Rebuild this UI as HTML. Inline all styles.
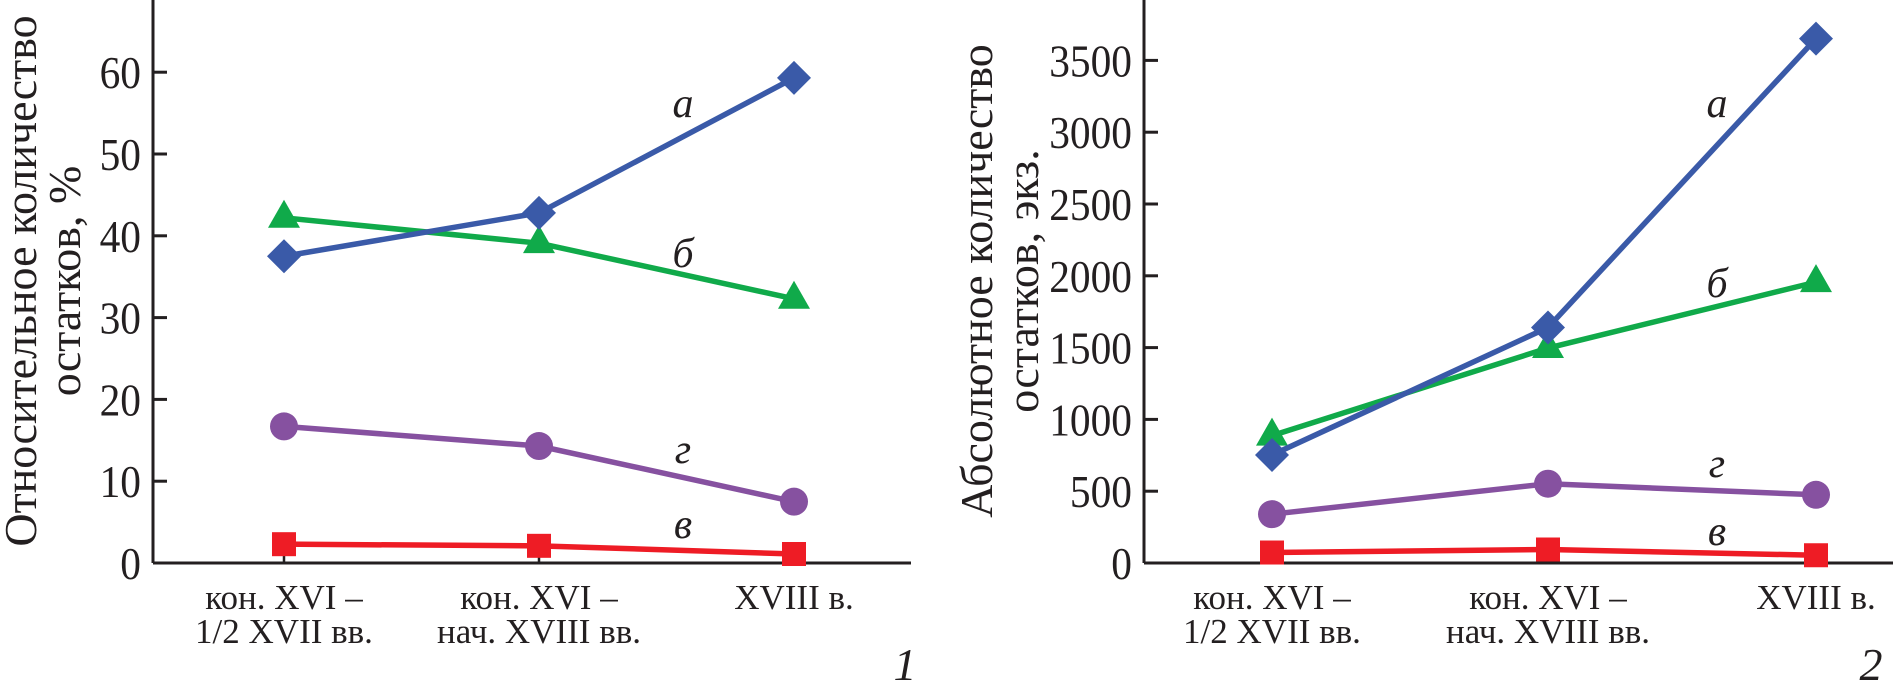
<!DOCTYPE html>
<html><head><meta charset="utf-8"><style>
html,body{margin:0;padding:0;background:#fff;}
svg{display:block;}
text{font-family:"Liberation Serif",serif;fill:#231f20;}
</style></head><body>
<svg id="c" width="1893" height="686" viewBox="0 0 1893 686" xmlns="http://www.w3.org/2000/svg"></svg>
<script>
const categories = ["кон. XVI –|1/2 XVII вв.", "кон. XVI –|нач. XVIII вв.", "XVIII в."];
const seriesNames = ["а", "б", "в", "г"];
const relA = [37.5, 42.8, 59.3];
const relB = [42.2, 39.1, 32.3];
const relV = [2.3, 2.1, 1.1];
const relG = [16.7, 14.3, 7.5];
const absA = [752, 1640, 3652];
const absB = [887, 1497, 1956];
const absV = [73, 94, 54];
const absG = [340, 552, 475];
const relTicks = [0, 10, 20, 30, 40, 50, 60];
const absTicks = [0, 500, 1000, 1500, 2000, 2500, 3000, 3500];

const NS = "http://www.w3.org/2000/svg";
const svg = document.getElementById("c");
function el(tag, attrs, parent) {
  const e = document.createElementNS(NS, tag);
  for (const k in attrs) e.setAttribute(k, attrs[k]);
  (parent || svg).appendChild(e);
  return e;
}
const colors = {"а":"#3a5aa8","б":"#10aa4a","в":"#ee1c25","г":"#8651a0"};

function drawPanel(cfg) {
  const g = el("g", {});
  
  
  const y = v => cfg.y0 - (v - 0) * cfg.pxPer;
  const x = i => cfg.cx[i];
  const ax = el("line", {x1:cfg.ax, y1:0, x2:cfg.ax, y2:cfg.y0, stroke:"#231f20","stroke-width":3}, g);
  
  
  const xa = el("line", {x1:cfg.ax, y1:cfg.y0, x2:cfg.xEnd, y2:cfg.y0, stroke:"#231f20","stroke-width":3}, g);
  
  
  cfg.ticks.forEach(t => {
    const yy = y(t);
    if (t !== 0) {
      const tl = el("line", {x1:cfg.ax, y1:yy, x2:cfg.ax+14, y2:yy, stroke:"#231f20","stroke-width":3}, g);
      
      
    }
    const tx = el("text", {x:0, y:0, "text-anchor":"end","font-size":46,
      transform:`translate(${cfg.ax-12},${yy+16}) scale(0.9,1)`}, g);
    
    
    tx.textContent = t;
  });
  categories.forEach((c, i) => {
    const tl = el("line", {x1:x(i), y1:cfg.y0, x2:x(i), y2:cfg.y0-14, stroke:"#231f20","stroke-width":2.5}, g);
    
    
    const parts = c.split("|");
    parts.forEach((p, j) => {
      const tx = el("text", {x:x(i), y:cfg.y0+46+j*34, "text-anchor":"middle","font-size":35}, g);
      
      
      tx.textContent = p;
    });
  });
  cfg.title.forEach((t, j) => {
    const tx = el("text", {x:0, y:0, "text-anchor":"middle","font-size":46,
      transform:`translate(${cfg.titleX[j]},281) rotate(-90)`}, g);
    
    
    tx.textContent = t;
  });
  const order = ["б","а","г","в"];
  order.forEach(name => {
    const vals = cfg.data[name];
    const col = colors[name];
    const pts = vals.map((v, i) => x(i) + "," + y(v)).join(" ");
    const pl = el("polyline", {points:pts, fill:"none", stroke:col, "stroke-width":5.5}, g);
    
    
    vals.forEach((v, i) => {
      const px = x(i), py = y(v);
      let m;
      if (name === "а") m = el("polygon", {points:`${px},${py-17} ${px+17},${py} ${px},${py+17} ${px-17},${py}`, fill:col}, g);
      else if (name === "б") m = el("polygon", {points:`${px},${py-18} ${px+16},${py+10} ${px-16},${py+10}`, fill:col}, g);
      else if (name === "г") m = el("circle", {cx:px, cy:py, r:14, fill:col}, g);
      else m = el("rect", {x:px-12, y:py-12, width:24, height:24, fill:col}, g);
      
      
    });
  });
  seriesNames.forEach(name => {
    const tx = el("text", {x:cfg.lblX, y:cfg.lblY[name], "text-anchor":"middle","font-size":42,"font-style":"italic"}, g);
    
    
    tx.textContent = name;
  });
  const pn = el("text", {x:cfg.numX, y:680, "text-anchor":"middle","font-size":46,"font-style":"italic"}, g);
  
  
  pn.textContent = cfg.num;
}

drawPanel({name:"panel-relative", ax:153, xEnd:911, y0:563, pxPer:8.18, cx:[284,539,794],
  ticks:relTicks, data:{"а":relA,"б":relB,"в":relV,"г":relG},
  title:["Относительное количество","остатков, %"], titleX:[36,80],
  lblX:683, lblY:{"а":117,"б":267,"в":538,"г":463}, numX:905, num:"1"});
drawPanel({name:"panel-absolute", ax:1144, xEnd:1893, y0:563, pxPer:71.8/500, cx:[1272,1548,1816],
  ticks:absTicks, data:{"а":absA,"б":absB,"в":absV,"г":absG},
  title:["Абсолютное количество","остатков, экз."], titleX:[992,1038],
  lblX:1717, lblY:{"а":117,"б":297,"в":545,"г":477}, numX:1871, num:"2"});
</script>
</body></html>
